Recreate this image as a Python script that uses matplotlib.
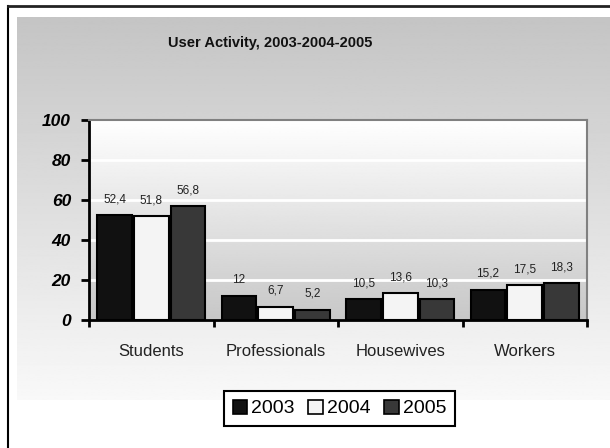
import numpy as np
import matplotlib
matplotlib.use('Agg')
from matplotlib import pyplot as plt
from matplotlib.patches import Patch

plt.rcParams['font.family'] = ['Liberation Sans', 'DejaVu Sans']

# dati
categories = ['Students', 'Professionals', 'Housewives', 'Workers']
years = ['2003', '2004', '2005']
values_2003 = [52.4, 12, 10.5, 15.2]
values_2004 = [51.8, 6.7, 13.6, 17.5]
values_2005 = [56.8, 5.2, 10.3, 18.3]
y_ticks = [0, 20, 40, 60, 80, 100]

series = [values_2003, values_2004, values_2005]
colors = ['#111111', '#f4f4f4', '#383838']

fig = plt.figure(figsize=(6.1, 4.48), dpi=100)

# sfondo con gradiente e cornice esterna
bg = fig.add_axes([0, 0, 1, 1])
bg.set_xlim(0, 610)
bg.set_ylim(448, 0)
bg.axis('off')
grad = np.linspace(0.77, 0.975, 256).reshape(-1, 1)
bg.imshow(grad, cmap='gray', vmin=0, vmax=1, extent=(17, 610, 400, 17), aspect='auto')
bg.plot([8, 8], [448, 6], color='black', lw=1.5)
bg.plot([8, 610], [6, 6], color='#222222', lw=2)

ax = fig.add_axes([89 / 610, (448 - 320) / 448, (587 - 89) / 610, 200 / 448])
ax.set_xlim(-0.5, 3.5)
ax.set_ylim(0, 100)

# gradiente dell'area del grafico
plot_grad = np.linspace(0.78, 1.0, 256).reshape(-1, 1)
ax.imshow(plot_grad, cmap='gray', vmin=0, vmax=1, extent=(-0.5, 3.5, 0, 100),
          aspect='auto', origin='lower', zorder=0)

for y in y_ticks[1:-1]:
    ax.axhline(y, color='white', lw=2, zorder=1)

x = np.arange(len(categories))
width = 0.28
offsets = [-0.295, 0, 0.295]
for i, vals in enumerate(series):
    bars = ax.bar(x + offsets[i], vals, width, color=colors[i], edgecolor='black',
                  linewidth=1.5, zorder=3, label=years[i])
    for b, v in zip(bars, vals):
        ax.annotate(f"{v:g}".replace('.', ','), (b.get_x() + b.get_width() / 2, v),
                    xytext=(0, 7), textcoords='offset points', ha='center', va='bottom',
                    fontsize=8.5, color='#222222')

# assi
for s in ['left', 'bottom']:
    ax.spines[s].set_linewidth(2)
    ax.spines[s].set_color('black')
for s in ['top', 'right']:
    ax.spines[s].set_linewidth(1.5)
    ax.spines[s].set_color('#808080')
ax.spines['bottom'].set_zorder(5)

ax.set_yticks(y_ticks)
ax.set_yticklabels([str(t) for t in y_ticks], fontsize=12.5, fontweight='bold', fontstyle='italic')
ax.tick_params(axis='y', length=6, width=2, pad=7)

ax.set_xticks(x)
ax.set_xticklabels(categories, fontsize=12, color='#222222')
ax.set_xticks(np.arange(-0.5, 4, 1), minor=True)
ax.tick_params(axis='x', which='major', length=0, pad=17)
ax.tick_params(axis='x', which='minor', length=5, width=2)

fig.text(270 / 610, 1 - 43 / 448, 'User Activity, 2003-2004-2005', ha='center', va='center',
         fontsize=10.5, fontweight='bold', color='#111111')

handles = [Patch(facecolor=colors[i], edgecolor='black', linewidth=1.2, label=years[i])
           for i in range(3)]
leg = fig.legend(handles=handles, loc='center', bbox_to_anchor=(339.5 / 610, 39.5 / 448),
                 ncol=3, fontsize=14, frameon=True, fancybox=False, handlelength=0.75,
                 handleheight=0.75, handletextpad=0.2, columnspacing=0.7, borderpad=0.45,
                 borderaxespad=0)
leg.get_frame().set_edgecolor('black')
leg.get_frame().set_linewidth(1.5)
leg.get_frame().set_facecolor('white')
leg.get_frame().set_alpha(1)

fig.savefig('out.png', dpi=100)
